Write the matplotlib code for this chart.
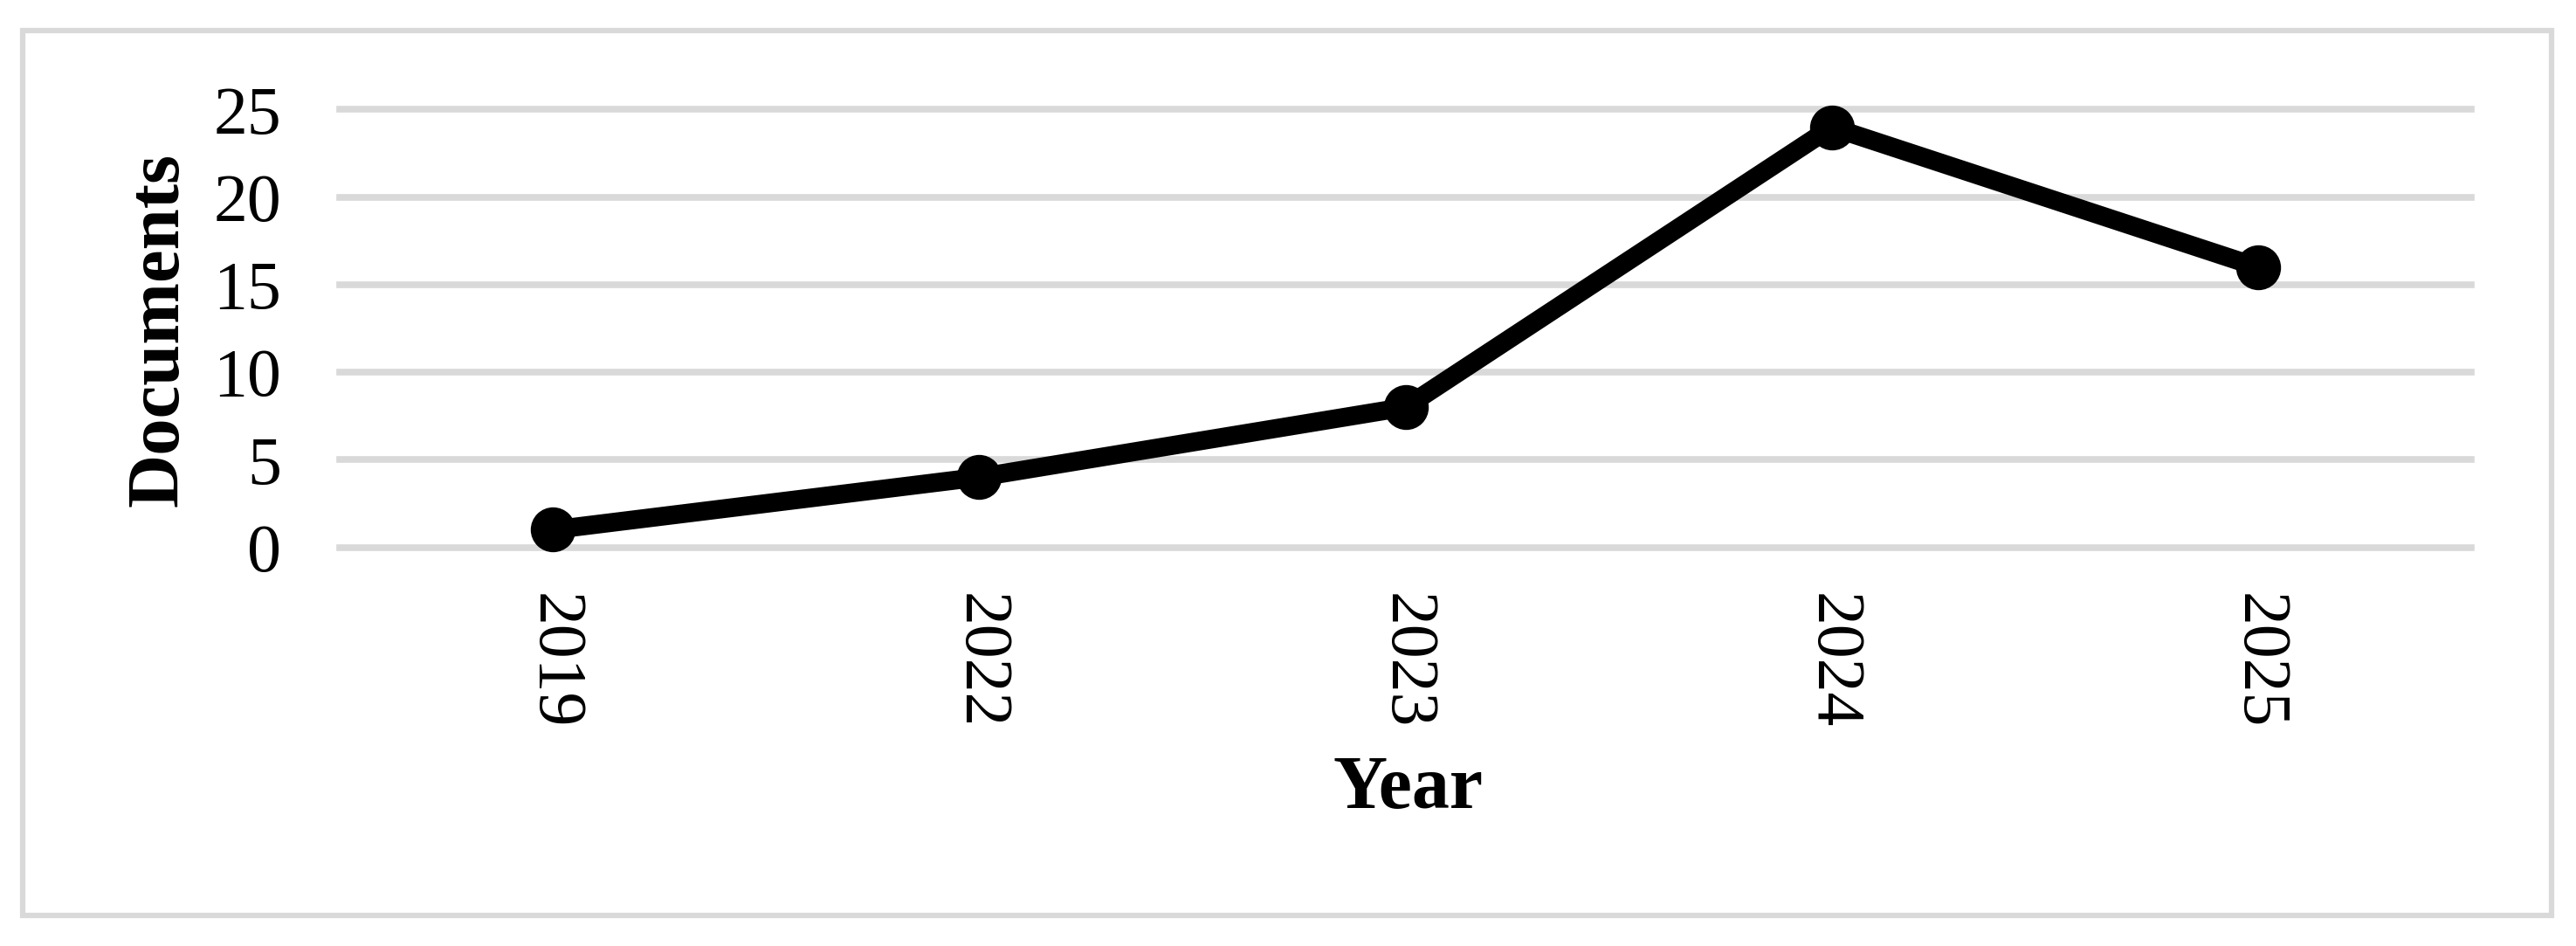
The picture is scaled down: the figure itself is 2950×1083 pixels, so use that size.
import matplotlib
matplotlib.use("Agg")
import matplotlib.pyplot as plt
from matplotlib.patches import Rectangle

years = ["2019", "2022", "2023", "2024", "2025"]
documents = [1, 4, 8, 24, 16]
y_ticks = [0, 5, 10, 15, 20, 25]

plt.rcParams['font.family'] = ['Liberation Serif', 'DejaVu Serif']

W, H = 2950, 1083
dpi = 100
fig = plt.figure(figsize=(W / dpi, H / dpi), dpi=dpi)
fig.patch.set_facecolor("white")

# outer border
fig.patches.append(Rectangle((25.5 / W, 1 - 1048 / H), (2921.5 - 25.5) / W, (1048 - 35) / H,
                             transform=fig.transFigure, fill=False,
                             edgecolor="#D9D9D9", linewidth=4.5))

left, right = 389 / W, 2830 / W
top, bottom = 1 - 125.5 / H, 1 - 626.5 / H
ax = fig.add_axes([left, bottom, right - left, top - bottom])

x = list(range(len(years)))
ax.plot(x, documents, color="black", linewidth=15.5, marker="o", markersize=36,
        markerfacecolor="black", markeredgecolor="black", clip_on=False, zorder=3,
        solid_joinstyle="round")

ax.set_xlim(-0.5, len(years) - 0.5)
ax.set_ylim(0, 25)
ax.set_yticks(y_ticks)
ax.set_yticklabels([str(v) for v in y_ticks])
ax.set_xticks(x)
ax.set_xticklabels(years, rotation=-90)

ax.grid(axis="y", color="#D9D9D9", linewidth=5.5)
for gl in ax.get_ygridlines():
    gl.set_clip_on(False)
ax.set_axisbelow(True)
for s in ax.spines.values():
    s.set_visible(False)

ax.tick_params(axis="y", length=0, pad=48, labelsize=56)
ax.tick_params(axis="x", length=0, pad=38, labelsize=56)

fig.text(1612 / W, 1 - 905 / H, "Year", ha="center", va="center",
         fontsize=62, fontweight="bold")
fig.text(183 / W, 1 - 377 / H, "Documents", ha="center", va="center",
         rotation=90, fontsize=61, fontweight="bold")

fig.savefig("out.png", dpi=dpi, facecolor="white")
